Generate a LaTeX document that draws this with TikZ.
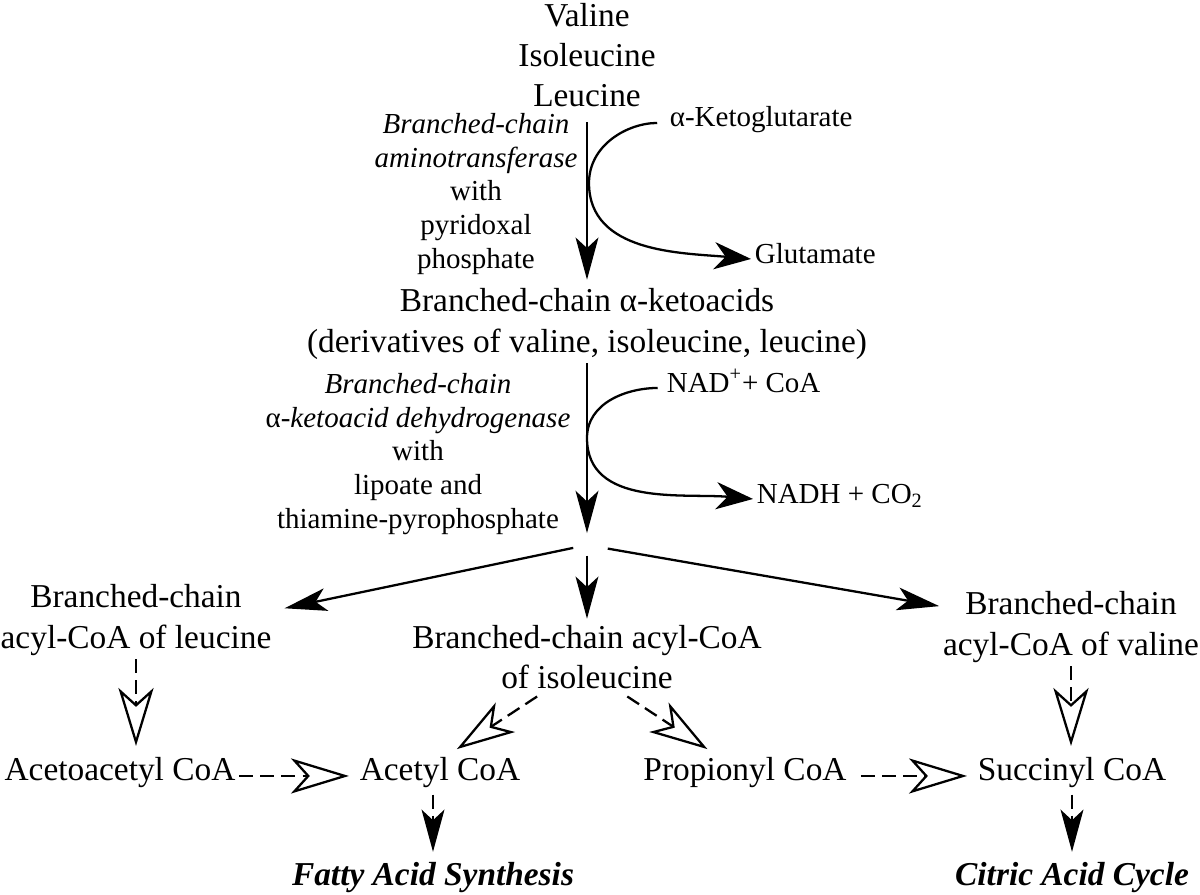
\documentclass[tikz,border=0pt]{standalone}
\usepackage{fontspec}
\setmainfont{Liberation Serif}
\usetikzlibrary{arrows.meta}

\begin{document}
\begin{tikzpicture}[x=0.02cm, y=-0.02cm,
  big/.style={font=\fontsize{19}{22.8}\selectfont, align=center, inner sep=2pt},
  small/.style={font=\fontsize{16.5}{19.2}\selectfont, align=center, inner sep=2pt},
  main/.style={line width=1.3pt, -{Stealth[length=24pt, width=13pt, inset=6pt]}},
  side/.style={line width=1.3pt, -{Stealth[length=21pt, width=15.5pt, inset=6.5pt]}},
  minor/.style={line width=1.3pt, dash pattern=on 8pt off 4pt, -{Stealth[open, length=33pt, width=20pt, inset=9pt]}, shorten >=4pt},
  exit/.style={line width=1.3pt, dash pattern=on 8pt off 4pt, -{Stealth[length=24pt, width=13pt, inset=6pt]}, shorten >=3.5pt, shorten <=2pt}]

\useasboundingbox (0,0) rectangle (1200,895);

%%%%%%%%%%%%%%% main chain
\node[big] (aa) at (587,55) {Valine\\Isoleucine\\Leucine};
\node[big] (keto) at (587,324) {Branched-chain α-ketoacids\\(derivatives of valine, isoleucine, leucine)};

\node[small] (enz1) at (476,194) {\textit{Branched-chain}\\\textit{aminotransferase}\\with\\pyridoxal\\phosphate};
\node[small] (enz2) at (418,454) {\textit{Branched-chain}\\α\textit{-ketoacid dehydrogenase}\\with\\lipoate and\\thiamine-pyrophosphate};

\node[small, anchor=base west] (akg) at (666,127) {α-Ketoglutarate};
\node[small, anchor=base west] (glu) at (751,263) {Glutamate};
\node[small, anchor=base west] (nad) at (663,392) {NAD\textsuperscript{+}+ CoA};
\node[small, anchor=base west] (nadh) at (753,503) {NADH + CO\textsubscript{2}};

\coordinate (c1) at (589,183);
\coordinate (c2) at (587,438);
\coordinate (split) at (587,545);

\draw[main, shorten <=6.5pt, shorten >=3pt] (aa) -- (keto);
\draw[main, shorten >=6.8pt] (keto) -- (split);

\draw[side, shorten <=5pt] (akg.mid west) to[out=180, in=90] (c1) to[out=-90, in=175] (glu.mid west);
\draw[side, shorten <=3pt] (nad.mid west) to[out=180, in=90] (c2) to[out=-90, in=175] (nadh.mid west);

%%%%%%%%%%%%%%% acyl-CoA
\node[big] (leu) at (136,620) {Branched-chain\\acyl-CoA of leucine};
\node[big] (ile) at (587,657) {Branched-chain acyl-CoA\\of isoleucine};
\node[big] (val) at (1071,627) {Branched-chain\\acyl-CoA of valine};

\draw[main, shorten <=8pt, shorten >=5.5pt] (split) -- (leu.4);
\draw[main, shorten <=6pt, shorten >=1.5pt] (split) -- (ile);
\draw[main, shorten <=12pt] (split) -- (val.171);

%%%%%%%%%%%%%%% products
\node[big, anchor=base] (aceto) at (120,780) {Acetoacetyl CoA};
\node[big, anchor=base] (acetyl) at (440,780) {Acetyl CoA};
\node[big, anchor=base] (prop) at (745,780) {Propionyl CoA};
\node[big, anchor=base] (succ) at (1072,780) {Succinyl CoA};
\node[big, anchor=base] (fatty) at (433,885) {\textbf{\textit{Fatty Acid Synthesis}}};
\node[big, anchor=base] (citric) at (1072,885) {\textbf{\textit{Citric Acid Cycle}}};

\draw[minor] (leu.south) -- (leu.south |- aceto.north);
\draw[minor] (aceto.mid east) -- (acetyl.mid west);
\draw[minor, shorten <=4pt] (ile.-141) -- (acetyl.60);
\draw[minor, shorten <=4pt] (ile.-46) -- (prop.149);
\draw[minor, shorten <=6pt] (prop.mid east) -- (succ.mid west);
\draw[minor] (val.south) -- (val.south |- succ.north);

\draw[exit] (fatty.north |- acetyl.south) -- (fatty.north);
\draw[exit] (succ.south) -- (succ.south |- citric.north);

\end{tikzpicture}
\end{document}
